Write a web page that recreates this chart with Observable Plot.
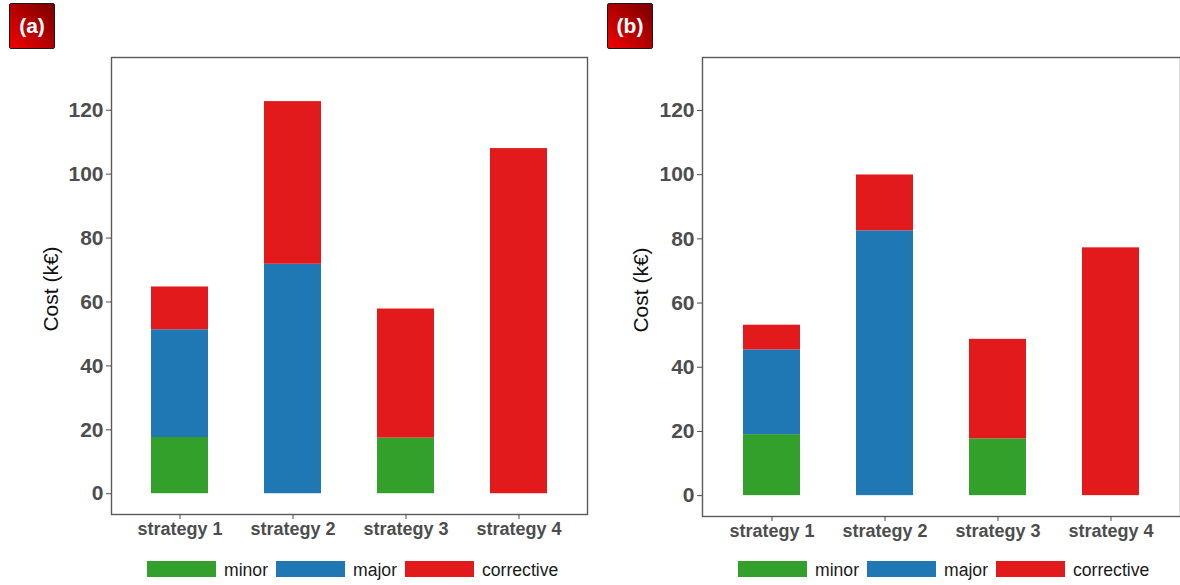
<!DOCTYPE html>
<html>
<head>
<meta charset="utf-8">
<script src="https://cdn.jsdelivr.net/npm/d3@7"></script>
<script src="https://cdn.jsdelivr.net/npm/@observablehq/plot@0.6"></script>
<style>
  html, body { margin: 0; padding: 0; background: white; }
  body { width: 1180px; height: 585px; position: relative; overflow: hidden;
         font-family: "Liberation Sans", Arial, sans-serif; }
  .panel { position: absolute; top: 0; width: 590px; height: 585px; }
  .badge { position: absolute; top: 3px; width: 44px; height: 44px;
           border: 1.5px solid #1a1a1a; border-radius: 2px;
           background: linear-gradient(to top right, #f40000 0%, #c00000 40%, #7a0000 100%);
           color: white; font-weight: bold; font-size: 21px;
           display: flex; align-items: center; justify-content: center; }
  .legend { position: absolute; top: 559px; display: flex; align-items: flex-end; }
  .legend .key { width: 69px; height: 16px; }
  .legend .lab { font-size: 17.6px; color: #1a1a1a; margin: 0 8px 0 8px; line-height: 1; position: relative; top: 3px; }
  svg { position: absolute; top: 0; left: 0; }
</style>
</head>
<body>
<script>
const strategies = ["strategy 1", "strategy 2", "strategy 3", "strategy 4"];
const components = ["minor", "major", "corrective"];
const componentColors = ["#33a02c", "#1f78b4", "#e31a1c"];

// Panel (a)
const minorA = [17.6, 0, 17.4, 0];
const majorA = [33.7, 71.8, 0, 0];
const correctiveA = [13.4, 50.9, 40.4, 108.0];

// Panel (b)
const minorB = [19.0, 0, 17.7, 0];
const majorB = [26.4, 82.5, 0, 0];
const correctiveB = [7.7, 17.4, 31.0, 77.2];

const yTicks = [0, 20, 40, 60, 80, 100, 120];
const yLabel = "Cost (k€)";
const panelLabels = ["(a)", "(b)"];

function rowsFor(minor, major, corrective) {
  const series = [minor, major, corrective];
  return strategies.flatMap((s, i) =>
    components.map((c, j) => ({strategy: s, component: c, cost: series[j][i]}))
  ).filter(d => d.cost > 0);
}

function makePanel(cfg) {
  const div = document.createElement("div");
  div.className = "panel";
  div.style.left = cfg.left + "px";
  document.body.appendChild(div);

  const chart = Plot.plot({
    width: 590,
    height: 545,
    marginLeft: cfg.marginLeft,
    marginRight: cfg.marginRight,
    marginTop: 57,
    marginBottom: cfg.marginBottom,
    style: {fontFamily: '"Liberation Sans", Arial, sans-serif', background: "transparent", overflow: "visible"},
    x: {domain: strategies, paddingInner: 0.5, paddingOuter: 0.35, axis: null},
    y: {domain: [-6.5, 136.5], axis: null},
    color: {domain: components, range: componentColors},
    marks: [
      Plot.barY(cfg.rows, Plot.stackY({x: "strategy", y: "cost", fill: "component", order: components})),
      Plot.frame({stroke: "#5a5a5a", strokeWidth: 1.4}),
      Plot.axisY(yTicks, {tickSize: 5, tickPadding: 3, fontSize: 21, fontWeight: "bold", color: "#4d4d4d", label: null}),
      Plot.axisX({tickSize: 5, tickPadding: 3, fontSize: 18, fontWeight: "bold", color: "#4d4d4d", label: null}),
      Plot.text([yLabel], {frameAnchor: "left", textAnchor: "middle", dx: cfg.labelDx, dy: 3, rotate: -90, fontSize: 21, fill: "#111"})
    ]
  });
  div.appendChild(chart);

  const badge = document.createElement("div");
  badge.className = "badge";
  badge.style.left = cfg.badgeLeft + "px";
  badge.textContent = cfg.badge;
  div.appendChild(badge);

  const legend = document.createElement("div");
  legend.className = "legend";
  legend.style.left = cfg.legendLeft + "px";
  components.forEach((c, i) => {
    const k = document.createElement("div");
    k.className = "key";
    k.style.background = componentColors[i];
    legend.appendChild(k);
    const t = document.createElement("div");
    t.className = "lab";
    t.textContent = c;
    legend.appendChild(t);
  });
  div.appendChild(legend);
}

makePanel({left: 0, marginLeft: 111, marginRight: 3, marginBottom: 31, labelDx: -60,
           rows: rowsFor(minorA, majorA, correctiveA), badge: panelLabels[0], badgeLeft: 9, legendLeft: 147});
makePanel({left: 590, marginLeft: 112, marginRight: 0, marginBottom: 29, labelDx: -61,
           rows: rowsFor(minorB, majorB, correctiveB), badge: panelLabels[1], badgeLeft: 17, legendLeft: 148});
</script>
</body>
</html>
